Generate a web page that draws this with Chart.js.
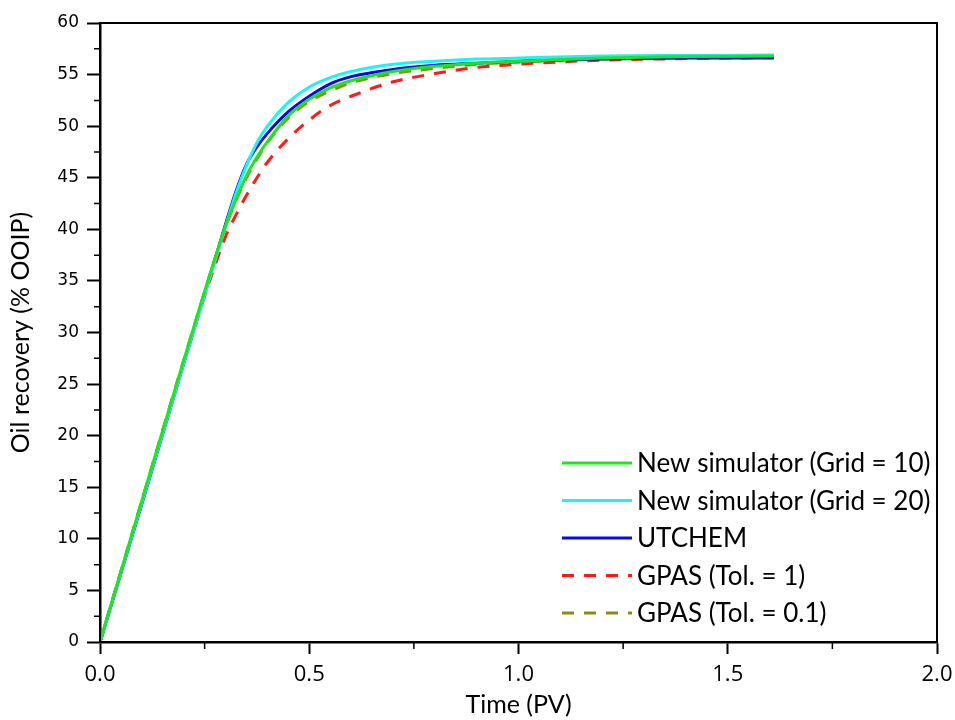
<!DOCTYPE html>
<html>
<head>
<meta charset="utf-8">
<script src="https://cdn.jsdelivr.net/npm/chart.js@4/dist/chart.umd.min.js"></script>
<style>
  html, body { margin: 0; padding: 0; background: #fff; }
  #wrap { width: 955px; height: 720px; }
</style>
</head>
<body>
<div id="wrap"><canvas id="c"></canvas></div>
<script>
// ── DATA ──
const timePV = [0, 0.1, 0.2, 0.3, 0.325, 0.35, 0.375, 0.4, 0.45, 0.5, 0.55, 0.6, 0.7, 0.8, 0.9, 1.0, 1.2, 1.4, 1.61];

const grid10    = [0, 13.7, 27.3, 40.3, 42.9, 45.2, 47.0, 48.5, 51.0, 52.6, 53.7, 54.4, 55.3, 55.8, 56.1, 56.3, 56.6, 56.75, 56.8];
const grid20    = [0, 13.5, 27.0, 40.3, 43.5, 46.2, 48.4, 50.0, 52.3, 53.8, 54.7, 55.3, 56.0, 56.3, 56.5, 56.6, 56.8, 56.85, 56.9];
const utchem    = [0, 13.4, 27.0, 40.5, 43.7, 46.3, 48.0, 49.3, 51.4, 52.9, 54.1, 54.8, 55.5, 55.9, 56.1, 56.3, 56.5, 56.6, 56.6];
const gpasTol1  = [0, 13.6, 27.1, 39.3, 41.4, 43.3, 45.0, 46.5, 48.8, 50.6, 52.0, 52.9, 54.3, 55.1, 55.7, 56.0, 56.4, 56.55, 56.65];
const gpasTol01 = [0, 13.7, 27.3, 40.2, 42.8, 45.0, 46.8, 48.4, 50.8, 52.4, 53.4, 54.2, 55.1, 55.6, 56.0, 56.2, 56.5, 56.65, 56.7];

const xTicks = [0, 0.5, 1.0, 1.5, 2.0];
const xMinor = [0.25, 0.75, 1.25, 1.75];
const yTicks = [0, 5, 10, 15, 20, 25, 30, 35, 40, 45, 50, 55, 60];
const yMinor = [2.5, 7.5, 12.5, 17.5, 22.5, 27.5, 32.5, 37.5, 42.5, 47.5, 52.5, 57.5];

const TITLE_FONT = "Lato, 'Open Sans', sans-serif";

const pts = ys => timePV.map((x, i) => ({ x, y: ys[i] }));

// ── FRAME + MINOR TICKS + IN-PLOT LEGEND ──
const framePlugin = {
  id: 'framePlugin',
  afterDraw(chart) {
    const { ctx, chartArea: { left, right, top, bottom }, scales: { x, y } } = chart;
    ctx.save();
    ctx.strokeStyle = '#000';
    ctx.lineWidth = 2;
    ctx.strokeRect(left, top, right - left, bottom - top);

    // minor ticks (outward)
    ctx.lineWidth = 1.5;
    ctx.beginPath();
    xMinor.forEach(v => {
      const px = x.getPixelForValue(v);
      ctx.moveTo(px, bottom); ctx.lineTo(px, bottom + 7);
    });
    yMinor.forEach(v => {
      const py = y.getPixelForValue(v);
      ctx.moveTo(left, py); ctx.lineTo(left - 6, py);
    });
    ctx.stroke();

    // legend
    const lx0 = 562, lx1 = 632, ly0 = 463, dy = 37.5;
    ctx.font = `26px ${TITLE_FONT}`;
    ctx.textBaseline = 'middle';
    chart.data.datasets.forEach((ds, i) => {
      const ly = ly0 + i * dy;
      ctx.strokeStyle = ds.borderColor;
      ctx.lineWidth = ds.borderWidth;
      ctx.setLineDash(ds.borderDash || []);
      ctx.beginPath();
      ctx.moveTo(lx0, ly); ctx.lineTo(lx1, ly);
      ctx.stroke();
      ctx.setLineDash([]);
      ctx.fillStyle = '#000';
      ctx.fillText(ds.label, lx1 + 5, ly + 1);
    });
    ctx.restore();
  }
};

const line = (label, data, color, dash) => ({
  label,
  data: pts(data),
  borderColor: color,
  backgroundColor: color,
  borderWidth: 3,
  borderDash: dash,
  pointRadius: 0,
  cubicInterpolationMode: 'monotone',
  fill: false,
});

new Chart(document.getElementById('c'), {
  type: 'line',
  data: {
    datasets: [
      line('New simulator (Grid = 10)', grid10, '#1ee61e'),
      line('New simulator (Grid = 20)', grid20, '#19f5f5'),
      line('UTCHEM', utchem, '#0a0ae6'),
      line('GPAS (Tol. = 1)', gpasTol1, '#ff1a1a', [12, 10]),
      line('GPAS (Tol. = 0.1)', gpasTol01, '#8c8c14', [12, 10]),
    ]
  },
  options: {
    responsive: true,
    maintainAspectRatio: false,
    animation: false,
    layout: { padding: { top: 23, right: 18, left: 0, bottom: 0 } },
    plugins: { legend: { display: false }, tooltip: { enabled: false } },
    scales: {
      x: {
        type: 'linear',
        min: 0, max: 2,
        afterBuildTicks: s => { s.ticks = xTicks.map(v => ({ value: v })); },
        afterFit: s => { s.height = 78; s.paddingLeft = 0; s.paddingRight = 0; },
        ticks: {
          color: '#000',
          font: { family: "'Liberation Sans Narrow', 'Open Sans', sans-serif", size: 22 },
          padding: 8,
          maxRotation: 0,
          callback: v => v.toFixed(1)
        },
        grid: { drawOnChartArea: false, tickLength: 12, tickWidth: 2, tickColor: '#000' },
        border: { color: '#000', width: 2.5 },
        title: {
          display: true, text: 'Time (PV)', color: '#000',
          font: { family: TITLE_FONT, size: 25 }, padding: { top: 0, bottom: 0 }
        }
      },
      y: {
        min: 0, max: 60,
        afterBuildTicks: s => { s.ticks = yTicks.map(v => ({ value: v })); },
        afterFit: s => { s.width = 100; },
        ticks: {
          color: '#000',
          font: { family: "'DejaVu Sans', sans-serif", size: 17 },
          padding: 8
        },
        grid: { drawOnChartArea: false, tickLength: 13, tickWidth: 2, tickColor: '#000' },
        border: { color: '#000', width: 2.5 },
        title: {
          display: true, text: 'Oil recovery (% OOIP)', color: '#000',
          font: { family: TITLE_FONT, size: 25 }, padding: { top: 6, bottom: 0 }
        }
      }
    }
  },
  plugins: [framePlugin]
});
</script>
</body>
</html>
